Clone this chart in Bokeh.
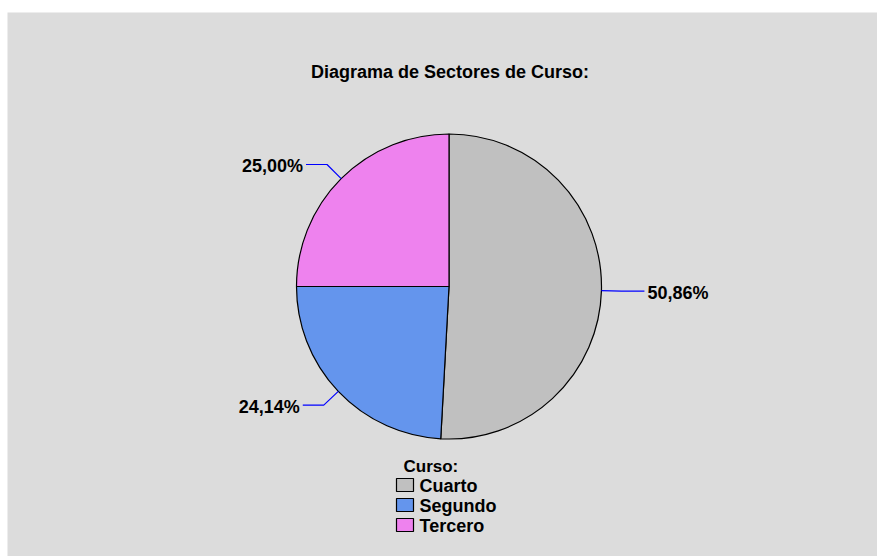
import math
from bokeh.plotting import figure
from bokeh.models import Range1d, ColumnDataSource
from bokeh.core.properties import value
from bokeh.embed import file_html
from bokeh.resources import INLINE

# ---- data ----
title_text = "Diagrama de Sectores de Curso:"
legend_title = "Curso:"
categories = ["Cuarto", "Segundo", "Tercero"]
counts = [59, 28, 29]
colors = ["#C0C0C0", "#6495ED", "#EE82EE"]

# ---- layout (page pixels; data y = 556 - screen y) ----
W, H = 877, 556
def Y(sy):
    return 556 - sy

cx, cy, r = 448.5, Y(286), 152.5
FONT = value("Liberation Sans")

p = figure(width=W, height=H, output_backend="svg", toolbar_location=None,
           x_range=Range1d(7, 877), y_range=Range1d(0, 544),
           min_border_left=7, min_border_right=0, min_border_bottom=0, min_border_top=12)
p.axis.visible = False
p.grid.visible = False
p.outline_line_color = None
p.background_fill_color = "#DCDCDC"
p.border_fill_color = "white"

total = sum(counts)
fracs = [c / total for c in counts]
starts, ends, mids, labels = [], [], [], []
cum = 0.0
for f in fracs:
    a0 = math.pi / 2 - 2 * math.pi * cum
    a1 = math.pi / 2 - 2 * math.pi * (cum + f)
    starts.append(a1)
    ends.append(a0)
    mids.append((a0 + a1) / 2)
    labels.append(("%.2f%%" % (f * 100)).replace(".", ","))
    cum += f

src = ColumnDataSource(dict(start=starts, end=ends, color=colors))
p.wedge(x=cx, y=cy, radius=r, start_angle="start", end_angle="end",
        direction="anticlock", fill_color="color", line_color="black",
        line_width=1.2, source=src)

# leader lines and labels
for m, lab in zip(mids, labels):
    ex, ey = cx + r * math.cos(m), cy + r * math.sin(m)
    bx, by = cx + (r + 20) * math.cos(m), cy + (r + 20) * math.sin(m)
    right = math.cos(m) >= 0
    tx = bx + 23 if right else bx - 21
    p.line([ex, bx, tx], [ey, by, by], line_color="#0000FF", line_width=1.2)
    p.text(x=[tx + 3 if right else tx - 3], y=[by - 1.5], text=[lab],
           text_align="left" if right else "right", text_baseline="middle",
           text_font=FONT, text_font_style="bold", text_font_size="18px",
           text_color="black")

# title
p.text(x=[449.5], y=[Y(71)], text=[title_text], text_align="center",
       text_baseline="middle", text_font=FONT, text_font_style="bold",
       text_font_size="18px", text_color="black")

# legend
p.text(x=[403], y=[Y(465.5)], text=[legend_title], text_align="left",
       text_baseline="middle", text_font=FONT, text_font_style="bold",
       text_font_size="17px", text_color="black")
row_y = [Y(484.5 + 20 * i) for i in range(len(categories))]
p.rect(x=[404.5] * len(categories), y=row_y, width=17, height=13,
       fill_color=colors, line_color="black", line_width=1.2)
p.text(x=[419] * len(categories), y=[yy - 1 for yy in row_y], text=categories,
       text_align="left", text_baseline="middle", text_font=FONT,
       text_font_style="bold", text_font_size="18px", text_color="black")

open("out.html", "w").write(file_html(p, INLINE))
